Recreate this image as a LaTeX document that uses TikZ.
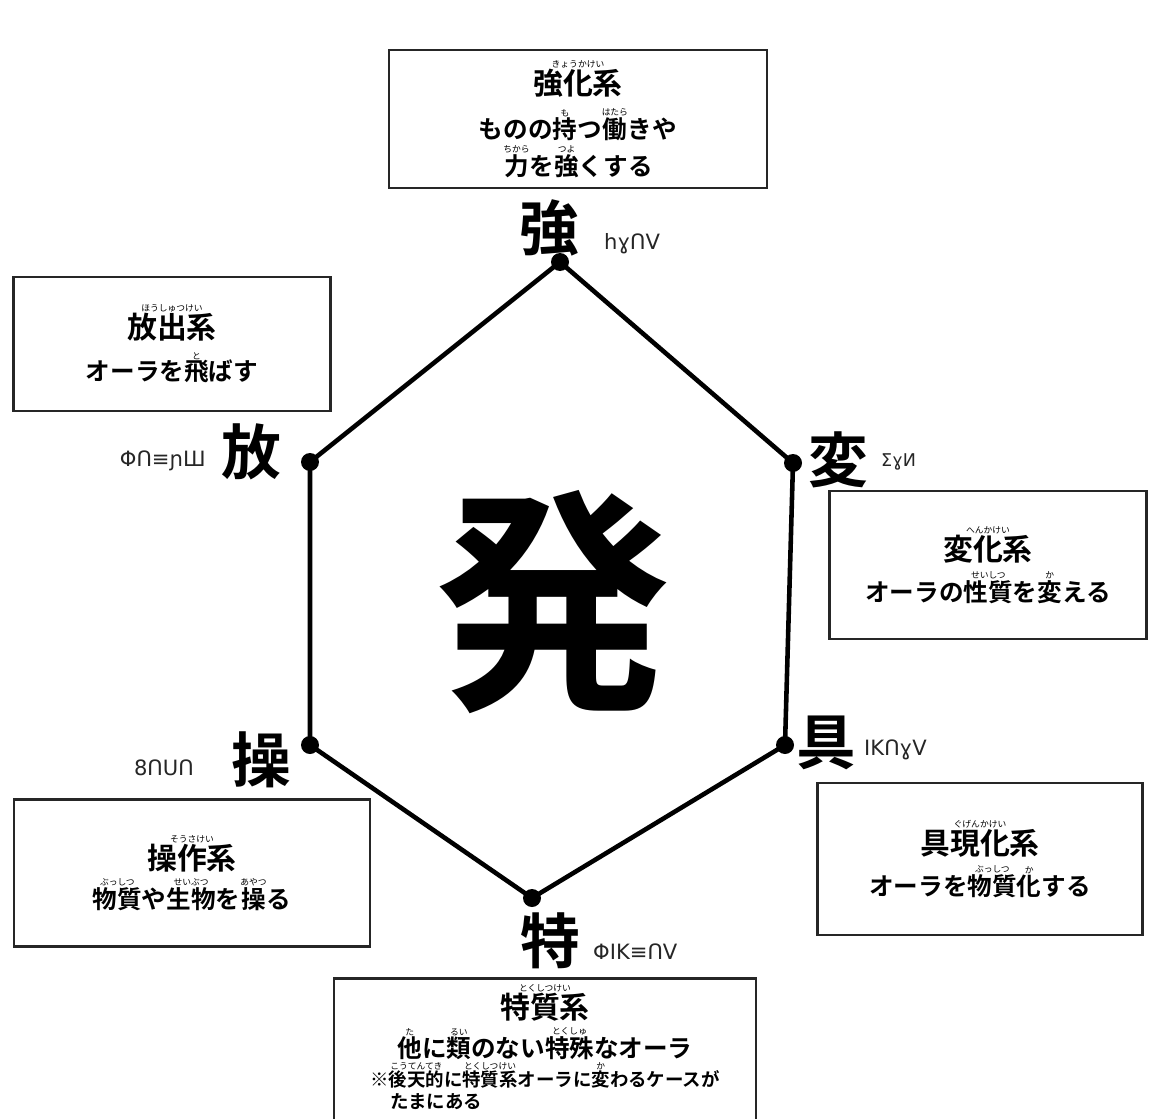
\documentclass[tikz,border=0pt]{standalone}
\usepackage{fontspec}
\newfontfamily\jpfont{Noto Sans CJK JP}[BoldFont={Noto Sans CJK JP Bold}]
\newfontfamily\hxhfont{DejaVu Sans}
\usetikzlibrary{positioning}

% small reading above a word
\newcommand\rb[2]{\leavevmode\vbox{\offinterlineskip\halign{\hfil##\hfil\cr{\mdseries\fontsize{5}{5}\selectfont #2}\cr\noalign{\kern0.6pt}#1\cr}}}
\newcommand\boxtitle[1]{{\fontsize{17}{21}\selectfont #1}}

\tikzset{
  hexline/.style={line width=2.6pt, line join=round},
  vdot/.style={circle, fill=black, inner sep=0pt, minimum size=0.36cm},
  vkanji/.style={font=\jpfont\bfseries\fontsize{34}{34}\selectfont},
  hxh/.style={font=\hxhfont\fontsize{12}{12}\selectfont, text=black!85},
  sysbox/.style={draw=black!85, line width=1.6pt, inner sep=0pt, align=center,
    font=\jpfont\bfseries\fontsize{14}{21}\selectfont},
}

\begin{document}
\begin{tikzpicture}[x=0.02cm,y=-0.02cm]
  \fill[white] (0,0) rectangle (1150,1119);
  \useasboundingbox (0,0) rectangle (1150,1119);

  % corners of the hexagon
  \foreach \nm/\px/\py in {vKyo/560/262, vHen/793/463, vGu/785/745,
                           vToku/532/898, vSo/310/745, vHo/310/462}{
    \node[vdot] (\nm) at (\px,\py) {};
  }
  \draw[hexline] (vKyo.center) -- (vHen.center) -- (vGu.center) -- (vToku.center)
    -- (vSo.center) -- (vHo.center) -- cycle;

  \node[font=\jpfont\bfseries\fontsize{135}{135}\selectfont] (hatsu) at (553,602) {発};

  % corner kanji and their script
  \node[vkanji] (kKyo) at (549,228) {強};
  \node[hxh, anchor=west] (hKyo) at (598,244) {hɣՈV};
  \node[vkanji] (kHo) at (251,452) {放};
  \node[hxh, anchor=east] (hHo) at (212,461) {ΦՈ≡ɲШ};
  \node[vkanji] (kHen) at (838,460) {変};
  \node[hxh, anchor=west, font=\hxhfont\fontsize{10}{10}\selectfont] (hHen) at (875,462) {ΣɣИ};
  \node[vkanji] (kSo) at (261,760) {操};
  \node[hxh, anchor=east] (hSo) at (200,768) {8ՈՍՈ};
  \node[vkanji] (kGu) at (826,743) {具};
  \node[hxh, anchor=west] (hGu) at (858,750) {IKՈɣV};
  \node[vkanji] (kToku) at (550,941) {特};
  \node[hxh, anchor=west] (hToku) at (587,952) {ΦIK≡ՈV};

  % the six boxes
  \node[sysbox, minimum width=7.56cm, minimum height=2.76cm] (kyoka) at (578,119)
    {\boxtitle{\rb{強化系}{きょうかけい}}\\[4pt]
     ものの\rb{持}{も}つ\rb{働}{はたら}きや\\
     \rb{力}{ちから}を\rb{強}{つよ}くする};
  \node[sysbox, minimum width=6.34cm, minimum height=2.68cm] (hoshutsu) at (172,344)
    {\boxtitle{\rb{放出系}{ほうしゅつけい}}\\[3pt]
     オーラを\rb{飛}{と}ばす};
  \node[sysbox, minimum width=6.34cm, minimum height=2.96cm] (henka) at (988,565)
    {\boxtitle{\rb{変化系}{へんかけい}}\\[2pt]
     オーラの\rb{性質}{せいしつ}を\rb{変}{か}える};
  \node[sysbox, minimum width=7.12cm, minimum height=2.94cm] (sosa) at (192,873)
    {\boxtitle{\rb{操作系}{そうさけい}}\\[1pt]
     \rb{物質}{ぶっしつ}や\rb{生物}{せいぶつ}を\rb{操}{あやつ}る};
  \node[sysbox, minimum width=6.5cm, minimum height=3.04cm] (gugenka) at (980,859)
    {\boxtitle{\rb{具現化系}{ぐげんかけい}}\\[2pt]
     オーラを\rb{物質}{ぶっしつ}\rb{化}{か}する};
  \node[sysbox, minimum width=8.44cm, minimum height=3.3cm] (tokushitsu) at (545,1061) {};
  \node[sysbox, draw=none, below=0.12cm of tokushitsu.north] (tokushitsuT)
    {\boxtitle{\rb{特質系}{とくしつけい}}\\[1pt]
     \rb{他}{た}に\rb{類}{るい}のない\rb{特殊}{とくしゅ}なオーラ};
  \node[sysbox, draw=none, align=left, below=0cm of tokushitsuT,
    font=\jpfont\bfseries\fontsize{10.5}{12.5}\selectfont] (tokushitsuN)
    {※\rb{後天的}{こうてんてき}に\rb{特質系}{とくしつけい}オーラに\rb{変}{か}わるケースが\\
     \hspace*{1.1em}たまにある};
\end{tikzpicture}
\end{document}
